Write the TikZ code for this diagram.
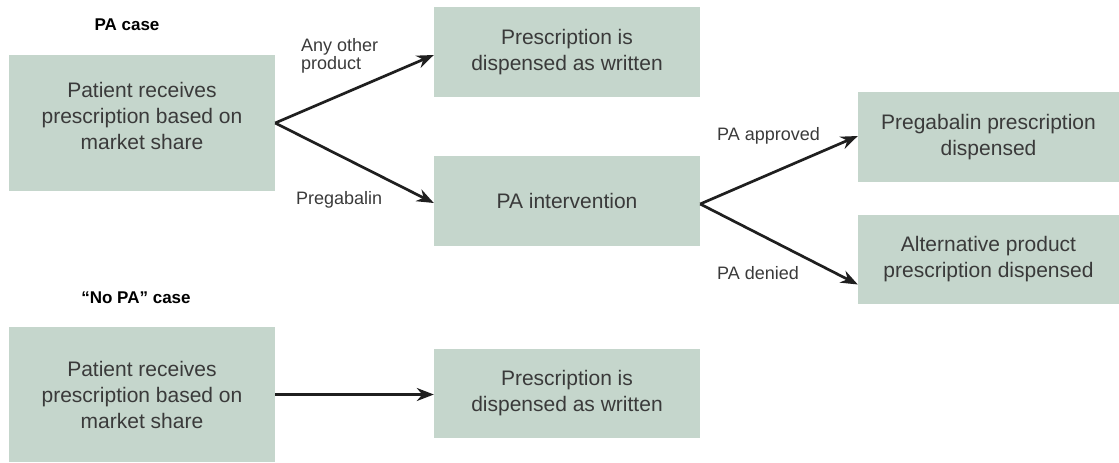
\documentclass[tikz,border=0pt]{standalone}
\usepackage{fontspec}
\setmainfont{Liberation Sans}
\usetikzlibrary{arrows.meta,calc}
\definecolor{boxfill}{RGB}{197,214,204}
\definecolor{txt}{RGB}{58,58,58}
\tikzset{
  box/.style={fill=boxfill, draw=none, inner sep=0pt, text=txt, align=center,
              font=\fontsize{21}{26}\selectfont},
  boxtext/.style={inner sep=0pt, text=txt, align=center, font=\fontsize{21}{26}\selectfont},
  edgelabel/.style={inner sep=0pt, text=txt, align=left, anchor=west,
              font=\fontsize{18}{18}\selectfont},
  heading/.style={inner sep=0pt, text=black, font=\bfseries\fontsize{17}{20}\selectfont},
  flow/.style={line width=2.7pt, draw=black!88, -{Stealth[length=17pt,width=13pt]}}
}
\begin{document}
\begin{tikzpicture}[x=1pt,y=-1pt]
\useasboundingbox (0,0) rectangle (1119,463);
% PA case
\node[heading] (h1) at (127,25) {PA case};
\node[box, minimum width=266pt, minimum height=136pt] (A) at (142,123) {};
\node[boxtext] (At) at (142,116) {Patient receives\\prescription based on\\market share};
\node[box, minimum width=266pt, minimum height=90pt] (B) at (567,52) {Prescription is\\dispensed as written};
\node[box, minimum width=266pt, minimum height=90pt] (C) at (567,201) {PA intervention};
\node[box, minimum width=261pt, minimum height=90pt] (D) at (988.5,137) {Pregabalin prescription\\dispensed};
\node[box, minimum width=261pt, minimum height=89pt] (E) at (988.5,259.5) {Alternative product\\prescription dispensed};
\coordinate (Bin) at ($(B.west)+(0,3)$);
\coordinate (Cin) at ($(C.west)+(0,2)$);
\coordinate (Cout) at ($(C.east)+(0,3)$);
\coordinate (Din) at ($(D.west)+(0,-1)$);
\coordinate (Ein) at ($(E.west)+(0,25)$);
\draw[flow] (A.east) -- (Bin);
\draw[flow] (A.east) -- (Cin);
\draw[flow] (Cout) -- (Din);
\draw[flow] (Cout) -- (Ein);
\node[edgelabel] (l1) at (301,56) {Any other\\product};
\node[edgelabel] (l2) at (296,200) {Pregabalin};
\node[edgelabel] (l3) at (717,136) {PA approved};
\node[edgelabel] (l4) at (717,273) {PA denied};
% No PA case
\node[heading] (h2) at (136,298) {``No PA'' case};
\node[box, minimum width=266pt, minimum height=135pt] (F) at (142,394.5) {Patient receives\\prescription based on\\market share};
\node[box, minimum width=266pt, minimum height=89pt] (G) at (567,393.5) {Prescription is\\dispensed as written};
\draw[flow] (F.east) -- (F.east -| G.west);
\end{tikzpicture}
\end{document}
